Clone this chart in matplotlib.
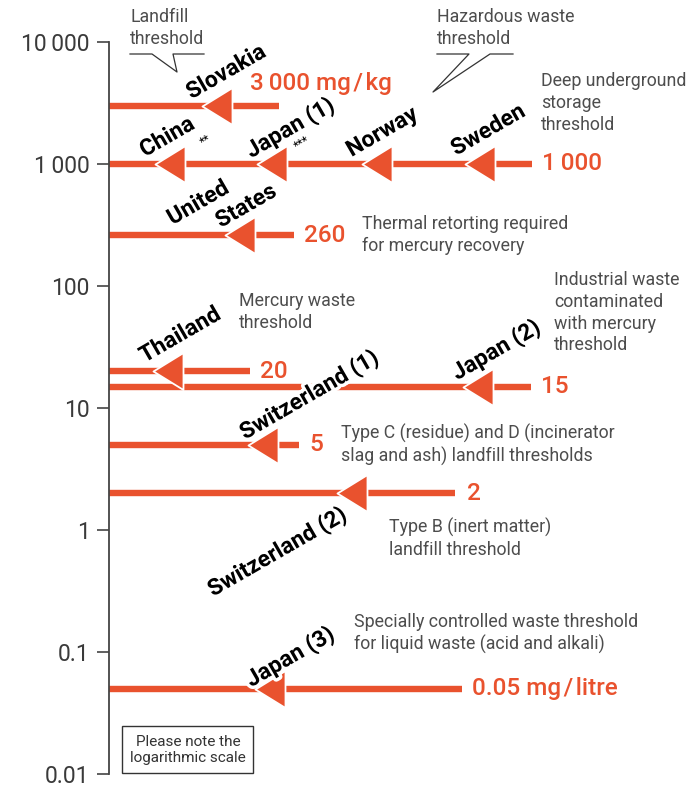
import matplotlib
matplotlib.use("Agg")
import matplotlib.pyplot as plt
from matplotlib.path import Path
from matplotlib.lines import Line2D
from matplotlib.patches import Rectangle
import matplotlib.patheffects as pe

plt.rcParams['font.family'] = ['Roboto', 'DejaVu Sans']

# thresholds (mg/kg, last one mg/litre)
values = [3000, 1000, 260, 20, 15, 5, 2, 0.05]
value_labels = ["3\u2009000 mg\u200a/\u200akg", "1\u2009000", "260", "20", "15", "5", "2",
                "0.05 mg\u200a/\u200alitre"]
line_ends = [279, 532, 294, 250, 531, 299, 455, 462]
arrow_tips = [[202], [155, 257, 362, 465], [225], [153], [463], [248], [337], [255]]
# where each value label sits relative to the line end (px)
label_offsets = [(-29, 22), (10, 0), (10, 0), (10, 0), (10, 0), (10, 0), (12, 0), (10, 0)]

y_ticks = [0.01, 0.1, 1, 10, 100, 1000, 10000]
y_tick_labels = ["0.01", "0.1", "1", "10", "100", "1\u2009000", "10\u2009000"]

# country labels: text, centre (px)
countries = [
    ("Slovakia", 226, 72), ("China", 167, 137), ("Japan (1)", 290, 128),
    ("Norway", 382, 132), ("Sweden", 488, 130), ("United", 198, 203),
    ("States", 246, 206), ("Thailand", 180, 335), ("Switzerland (1)", 309, 395),
    ("Japan (2)", 496, 350), ("Switzerland (2)", 277, 552), ("Japan (3)", 290, 657),
]

notes = [
    ("Landfill\nthreshold", 130, 8),
    ("Hazardous waste\nthreshold", 437, 8),
    ("Deep underground\nstorage\nthreshold", 541, 72),
    ("Thermal retorting required\nfor mercury recovery", 362, 215),
    ("Mercury waste\nthreshold", 239, 292),
    ("Industrial waste\ncontaminated\nwith mercury\nthreshold", 554, 271),
    ("Type C (residue) and D (incinerator\nslag and ash) landfill thresholds", 341, 424),
    ("Type B (inert matter)\nlandfill threshold", 389, 518),
    ("Specially controlled waste threshold\nfor liquid waste (acid and alkali)", 354, 613),
]

ORANGE = "#E9522E"
GREY = "#4d4d4d"
W, H = 694, 796


def fx(x, y):
    return x / W, 1 - y / H


fig = plt.figure(figsize=(W / 100, H / 100), dpi=100)
ax = fig.add_axes([109 / W, (796 - 774) / H, (W - 109) / W, (774 - 42) / H])
ax.set_yscale("log")
ax.set_ylim(0.01, 10000)
ax.set_xlim(109, W)

for s in ["top", "right", "bottom"]:
    ax.spines[s].set_visible(False)
ax.spines["left"].set_color("#444444")
ax.spines["left"].set_linewidth(1.3)
ax.set_xticks([])
ax.set_yticks(y_ticks)
ax.set_yticklabels(y_tick_labels)
ax.minorticks_off()
ax.tick_params(axis="y", length=9, width=1.2, color="#444444", pad=5,
               labelsize=16.5, labelcolor="#3a3a3a")

tri = Path([(0, 0), (30, 18.5), (30, -18.5), (0, 0)],
           [Path.MOVETO, Path.LINETO, Path.LINETO, Path.CLOSEPOLY])

for v, lab, xe, tips, off in zip(values, value_labels, line_ends, arrow_tips, label_offsets):
    ax.plot([109, xe], [v, v], color=ORANGE, lw=4.6, solid_capstyle="butt",
            zorder=2, clip_on=False)
    ax.plot(tips, [v] * len(tips), ls="none", marker=tri, markersize=43.2,
            markerfacecolor=ORANGE, markeredgecolor="white", markeredgewidth=1.3,
            zorder=3, clip_on=False)
    ax.annotate(lab, (xe, v), xytext=off, textcoords="offset pixels",
                color=ORANGE, fontsize=17.5, fontweight="medium",
                ha="left", va="center", zorder=4)

for name, cx, cy in countries:
    fig.text(*fx(cx, cy), name, rotation=30, rotation_mode="anchor",
             ha="center", va="center", fontsize=16.5, fontweight="bold",
             color="black", zorder=5,
             path_effects=[pe.withStroke(linewidth=5, foreground="white")])

fig.text(*fx(206, 140), "**", rotation=30, ha="center", va="center",
         fontsize=9, color="black")
fig.text(*fx(302, 143), "***", rotation=30, ha="center", va="center",
         fontsize=9, color="black")

for txt, x, y in notes:
    fig.text(*fx(x, y), txt, ha="left", va="top", fontsize=12.8,
             color=GREY, linespacing=1.27)

# callout tails
callouts = [
    [(130, 54), (152, 54), (177, 72), (173, 54), (204, 54)],
    [(437, 54), (469, 54), (433, 92), (490, 54), (513, 54)],
]
for pts in callouts:
    xs = [fx(p[0], p[1])[0] for p in pts]
    ys = [fx(p[0], p[1])[1] for p in pts]
    fig.add_artist(Line2D(xs, ys, color="#333333", lw=0.9))

# note box
x0, y0 = fx(122, 773)
fig.add_artist(Rectangle((x0, y0), 131 / W, 47 / H, transform=fig.transFigure,
                         fill=False, edgecolor="#333333", lw=1))
fig.text(*fx(188, 750), "Please note the\nlogarithmic scale", ha="center",
         va="center", fontsize=11, color="#333333", linespacing=1.25)

fig.savefig("out.png", dpi=100, facecolor="white")
